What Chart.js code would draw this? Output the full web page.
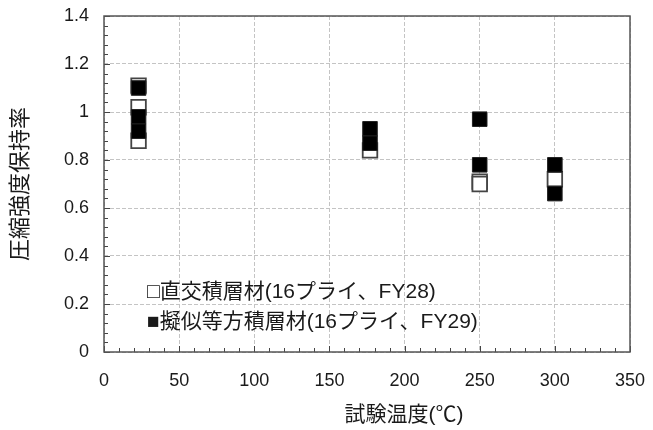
<!DOCTYPE html>
<html>
<head>
<meta charset="utf-8">
<script src="https://cdn.jsdelivr.net/npm/chart.js@4.4.1/dist/chart.umd.min.js"></script>
<style>
  html, body { margin: 0; padding: 0; background: #fff; }
</style>
</head>
<body>
<canvas id="chart" width="653" height="430"></canvas>
<script>
// ==========================
// Data
// ==========================
const seriesLabels = ["□直交積層材(16プライ、FY28)", "■擬似等方積層材(16プライ、FY29)"];

const crossTemps  = [23, 23, 23, 177, 250, 250, 300];
const crossRatio  = [1.11, 1.02, 0.88, 0.84, 0.71, 0.70, 0.72];

const quasiTemps  = [23, 23, 23, 177, 177, 250, 250, 300, 300];
const quasiRatio  = [1.10, 0.98, 0.92, 0.93, 0.87, 0.97, 0.78, 0.78, 0.66];

const xTicks = [0, 50, 100, 150, 200, 250, 300, 350];
const xTickLabels = ["0", "50", "100", "150", "200", "250", "300", "350"];
const yTicks = [0, 0.2, 0.4, 0.6, 0.8, 1.0, 1.2, 1.4];
const yTickLabels = ["0", "0.2", "0.4", "0.6", "0.8", "1", "1.2", "1.4"];

const xTitle = "試験温度(℃)";
const yTitle = "圧縮強度保持率";

const FONT = "'Liberation Sans', 'Noto Sans CJK JP', sans-serif";
const TEXT = "#1a1a1a";

function toPoints(xs, ys) {
  return xs.map((x, i) => ({ x: x, y: ys[i] }));
}

// frame, inward ticks, x title and legend text
const decorations = {
  id: "decorations",
  afterDatasetsDraw(chart) {
    const { ctx, chartArea, scales } = chart;
    const xs = scales.x, ys = scales.y;
    ctx.save();

    // minor / major ticks pointing inward
    ctx.strokeStyle = "#444";
    ctx.lineWidth = 1;
    ctx.beginPath();
    for (let v = 0; v <= 350; v += 10) {
      const px = Math.round(xs.getPixelForValue(v)) + 0.5;
      const len = v % 50 === 0 ? 6 : 4;
      ctx.moveTo(px, chartArea.bottom);
      ctx.lineTo(px, chartArea.bottom - len);
    }
    for (let i = 0; i <= 35; i++) {
      const py = Math.round(ys.getPixelForValue(i * 0.04)) + 0.5;
      const len = i % 5 === 0 ? 6 : 4;
      ctx.moveTo(chartArea.left, py);
      ctx.lineTo(chartArea.left + len, py);
    }
    ctx.stroke();

    // plot frame
    ctx.strokeStyle = "#555";
    ctx.lineWidth = 1.5;
    ctx.strokeRect(chartArea.left, chartArea.top, chartArea.right - chartArea.left, chartArea.bottom - chartArea.top);

    // x axis title
    ctx.fillStyle = TEXT;
    ctx.font = "21px " + FONT;
    ctx.textAlign = "center";
    ctx.textBaseline = "middle";
    ctx.fillText(xTitle, 404, 415);

    // legend
    ctx.font = "21px " + FONT;
    ctx.textAlign = "left";
    ctx.fillText(seriesLabels[0], 147, 292);
    ctx.fillText(seriesLabels[1], 147, 322);

    ctx.restore();
  }
};

const ctx = document.getElementById("chart").getContext("2d");
new Chart(ctx, {
  type: "scatter",
  data: {
    datasets: [
      {
        label: seriesLabels[0],
        data: toPoints(crossTemps, crossRatio),
        pointStyle: "rect",
        pointRadius: 10.3,
        pointBackgroundColor: "#fff",
        pointBorderColor: "#444",
        pointBorderWidth: 1.8,
        order: 2,
      },
      {
        label: seriesLabels[1],
        data: toPoints(quasiTemps, quasiRatio),
        pointStyle: "rect",
        pointRadius: 10.3,
        pointBackgroundColor: "#000",
        pointBorderColor: "#222",
        pointBorderWidth: 1,
        order: 1,
      },
    ],
  },
  options: {
    responsive: false,
    animation: false,
    devicePixelRatio: 1,
    layout: { padding: { top: 16, right: 23, left: 0, bottom: 0 } },
    plugins: {
      legend: { display: false },
      tooltip: { enabled: false },
    },
    scales: {
      x: {
        type: "linear",
        min: 0,
        max: 350,
        afterBuildTicks: (scale) => { scale.ticks = xTicks.map((v) => ({ value: v })); },
        afterFit: (scale) => { scale.height = 78; scale.paddingLeft = 0; scale.paddingRight = 0; },
        ticks: {
          padding: 18,
          color: TEXT,
          font: { family: FONT, size: 18 },
          maxRotation: 0,
          callback: (v) => xTickLabels[xTicks.indexOf(v)],
        },
        grid: { color: "#c4c4c4", lineWidth: 1, drawTicks: false },
        border: { display: false, dash: [4, 2] },
      },
      y: {
        type: "linear",
        min: 0,
        max: 1.4,
        afterBuildTicks: (scale) => { scale.ticks = yTicks.map((v) => ({ value: v })); },
        afterFit: (scale) => { scale.width = 104; scale.paddingTop = 0; scale.paddingBottom = 0; },
        ticks: {
          padding: 15,
          color: TEXT,
          font: { family: FONT, size: 18 },
          callback: (v) => yTickLabels[yTicks.findIndex((t) => Math.abs(t - v) < 1e-9)],
        },
        grid: { color: "#c4c4c4", lineWidth: 1, drawTicks: false },
        border: { display: false, dash: [4, 2] },
        title: {
          display: true,
          text: yTitle,
          color: TEXT,
          font: { family: FONT, size: 22 },
          padding: { top: 8, bottom: 0 },
        },
      },
    },
  },
  plugins: [decorations],
});
</script>
</body>
</html>
